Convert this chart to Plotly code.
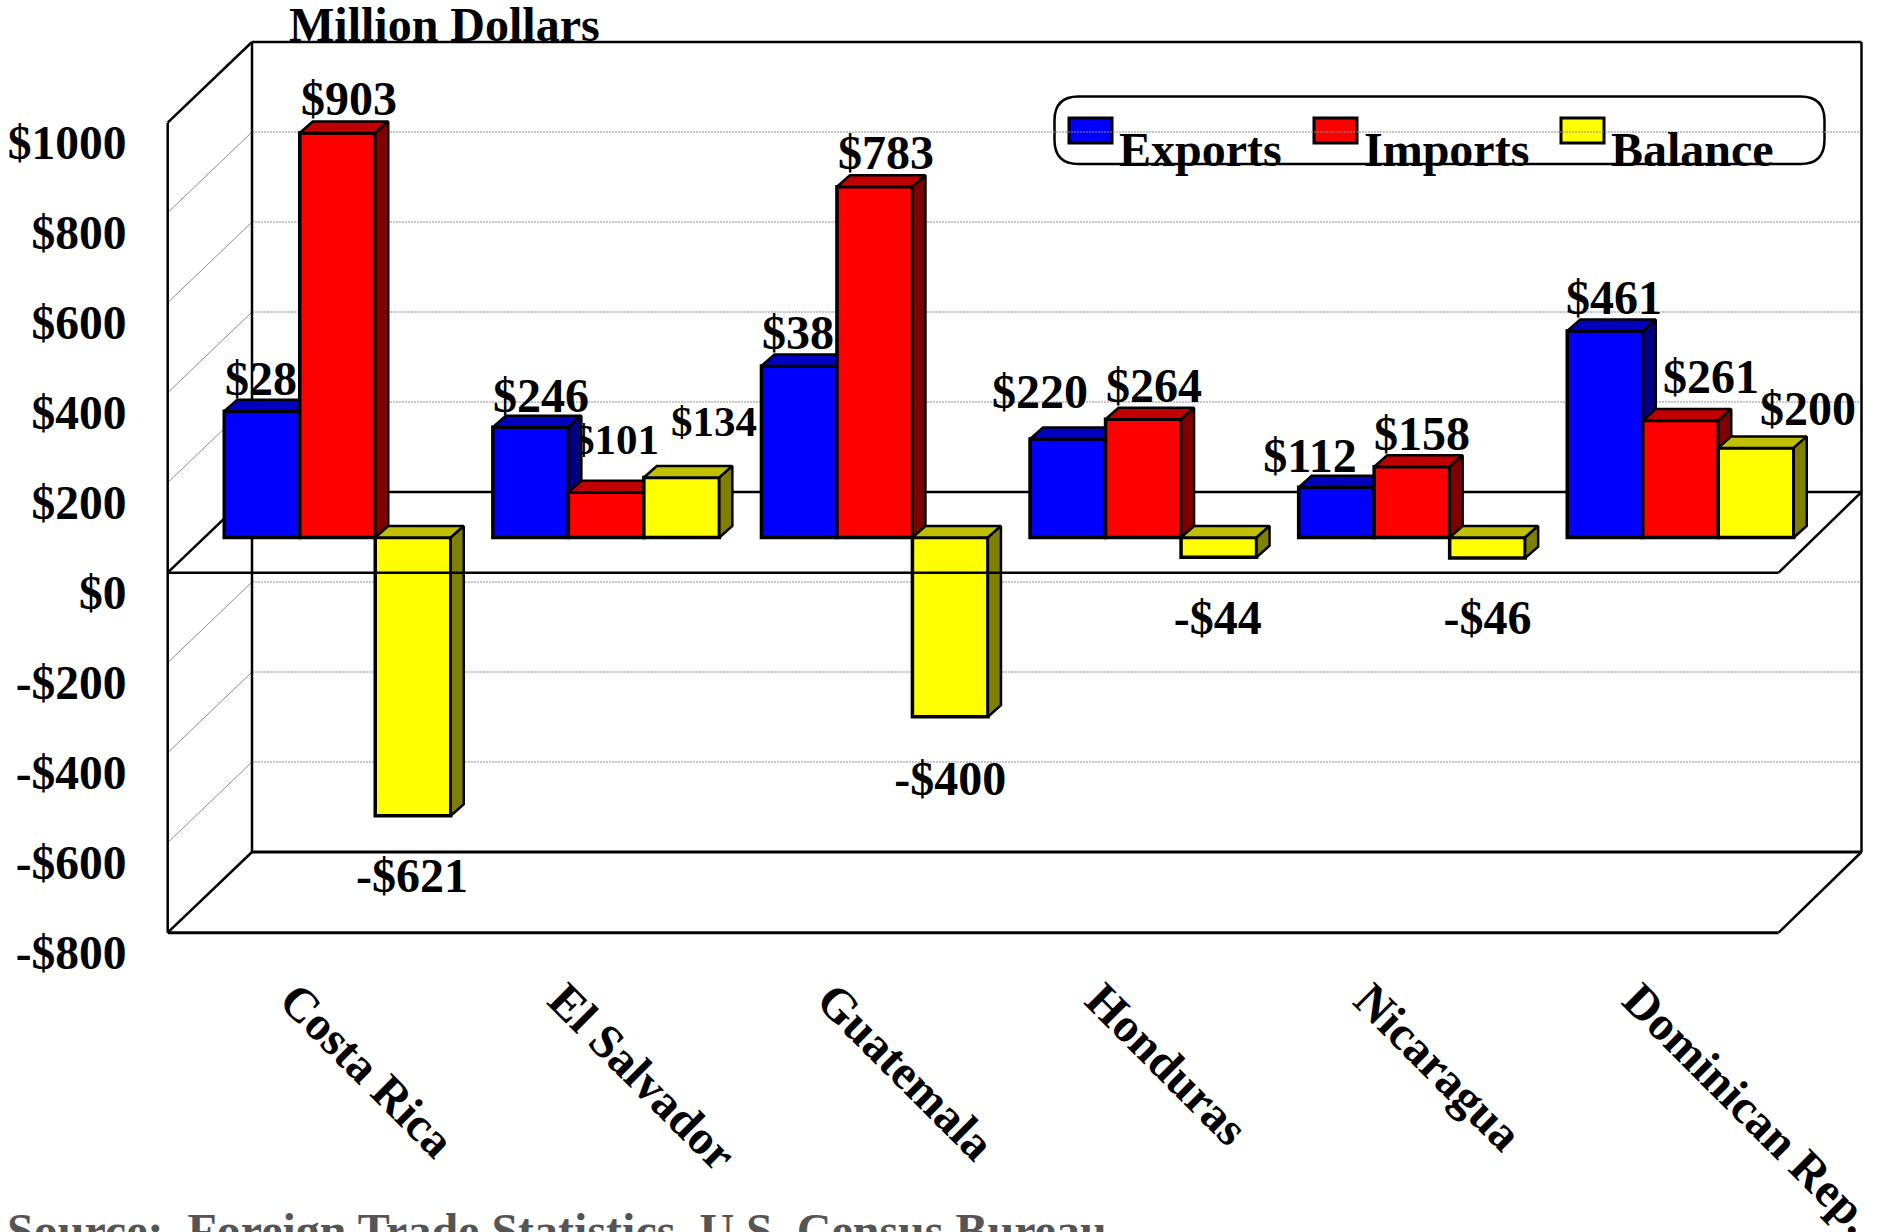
import plotly.graph_objects as go

# Trade with the U.S. by country, million dollars
countries = ["Costa Rica", "El Salvador", "Guatemala", "Honduras", "Nicaragua", "Dominican Rep."]
exports = [282, 246, 383, 220, 112, 461]
imports = [903, 101, 783, 264, 158, 261]
balance = [-621, 134, -400, -44, -46, 200]
tick_values = [1000, 800, 600, 400, 200, 0, -200, -400, -600, -800]
tick_labels = ["$1000", "$800", "$600", "$400", "$200", "$0", "-$200", "-$400", "-$600", "-$800"]
grid_values = [800, 600, 400, 200, -200, -400, -600]

WIDTH, HEIGHT = 1878, 1232
FONT = "Liberation Serif"
FS = 48

# Page scale of the bars: horizontal pixels per category, vertical pixels per million dollars
PX_X = 268.6
PX_Y = 0.448
ORIGIN_X = 337.5   # page x of category 0
ORIGIN_Y = 537.5   # page y of value 0 on the bar plane
PLANE_PX_Y = 0.45  # vertical scale of the box walls and value labels


def dx(px):
    return px / PX_X


def dy(px):
    return px / PX_Y


def ax_x(px):
    return (px - ORIGIN_X) / PX_X


def ax_y(py):
    return (ORIGIN_Y - py) / PX_Y


def plane_y(v, zero_py):
    """Bar-axis coordinate of value v on a plane whose zero sits at page y zero_py."""
    return ax_y(zero_py - PLANE_PX_Y * v)


X_RANGE = [ax_x(0), ax_x(WIDTH)]
Y_RANGE = [ax_y(HEIGHT), ax_y(0)]

BAR_W = dx(75.5)
DEPTH_X = dx(13)
DEPTH_Y = dy(11.5)

series = [
    ("Exports", exports, "#0000FF", "#000080", "#0000C0"),
    ("Imports", imports, "#FF0000", "#800000", "#C00000"),
    ("Balance", balance, "#FFFF00", "#808000", "#C0C000"),
]

# Label placement relative to each bar's centre and end, in page pixels
label_dx = [
    [11, 10.4, 10.8, -27.8, -26.4, 9],
    [11.5, 9.9, 11.3, 10.7, 10.1, 30.5],
    [-1, 32.4, 0, -1, 0, 52],
]
label_lift = [
    [13.9, 13.6, 14.5, 28.8, 13.4, 14.35],
    [14.45, 37.75, 14.45, 15, 14.7, 25.35],
    [-76.45, 40.5, -79.2, -78.4, -77.5, 20.8],
]
label_size = [
    [FS] * 6,
    [FS, 43, FS, FS, FS, FS],
    [FS, 43, FS, FS, FS, FS],
]
TEXT_BASE_SHIFT = -11  # from the text-box bottom down to the baseline
LABEL_ZERO_PY = 536.8


def money(v):
    return f"-${abs(v)}" if v < 0 else f"${v}"


fig = go.Figure()

# Value labels sit under every bar, so neighbouring bars can hide part of them
lx, ly, lt, ls = [], [], [], []
for k, (_, vals, *_rest) in enumerate(series):
    for i, v in enumerate(vals):
        lx.append(i + (k - 1) * BAR_W + dx(label_dx[k][i]))
        ly.append(plane_y(v, LABEL_ZERO_PY - label_lift[k][i] - TEXT_BASE_SHIFT))
        lt.append(money(v))
        ls.append(label_size[k][i])
fig.add_trace(go.Scatter(
    x=lx, y=ly, text=lt, mode="text", textposition="top center",
    textfont=dict(family=FONT, size=ls, color="black", weight="bold"),
    showlegend=False, hoverinfo="skip", cliponaxis=False, zorder=0,
))

# Front faces plus the shaded side and top faces of each series
z = 1
for k, (name, vals, front, side, top) in enumerate(series):
    fig.add_trace(go.Bar(
        x=list(range(len(vals))), y=vals, name=name,
        width=BAR_W, offset=(k - 1.5) * BAR_W,
        marker=dict(color=front, line=dict(color="black", width=3.5)),
        showlegend=False, zorder=z,
    ))
    z += 1
    for colour, face in ((top, "top"), (side, "side")):
        xs, ys = [], []
        for i, v in enumerate(vals):
            x0 = i + (k - 1.5) * BAR_W
            x1 = x0 + BAR_W
            hi, lo = max(v, 0), min(v, 0)
            if face == "top":
                xs += [x0, x0 + DEPTH_X, x1 + DEPTH_X, x1, x0, None]
                ys += [hi, hi + DEPTH_Y, hi + DEPTH_Y, hi, hi, None]
            else:
                xs += [x1, x1 + DEPTH_X, x1 + DEPTH_X, x1, x1, None]
                ys += [lo, lo + DEPTH_Y, hi + DEPTH_Y, hi, lo, None]
        fig.add_trace(go.Scatter(
            x=xs, y=ys, mode="lines", fill="toself", fillcolor=colour,
            line=dict(color="black", width=2.5), showlegend=False,
            hoverinfo="skip", zorder=z,
        ))
        z += 1

# Box frame: front and back planes share the value scale but sit at different offsets
LEFT_FRONT, LEFT_BACK = ax_x(167.7), ax_x(252)
RIGHT_FRONT, RIGHT_BACK = ax_x(1778.6), ax_x(1861.5)
FRONT_ZERO_PY = 572.7
BACK_ZERO_PY = 492
v_max, v_min = max(tick_values), min(tick_values)


def line(x0, y0, x1, y1, colour="black", width=2.5, dash="solid", layer="below"):
    return dict(type="line", xref="x", yref="y", x0=x0, y0=y0, x1=x1, y1=y1,
                layer=layer, line=dict(color=colour, width=width, dash=dash))


shapes = []
for v in grid_values:
    back_y = plane_y(v, BACK_ZERO_PY)
    shapes.append(line(LEFT_BACK, back_y, RIGHT_BACK, back_y,
                       colour="#8c8c8c", width=1.2, dash="2px,1px"))
    shapes.append(line(LEFT_FRONT, plane_y(v, FRONT_ZERO_PY), LEFT_BACK, back_y,
                       colour="#8c8c8c", width=1))

ft, fb = plane_y(v_max, FRONT_ZERO_PY), plane_y(v_min, FRONT_ZERO_PY)
bt, bb = plane_y(v_max, BACK_ZERO_PY), plane_y(v_min, BACK_ZERO_PY)
f0, b0 = plane_y(0, FRONT_ZERO_PY), plane_y(0, BACK_ZERO_PY)
shapes += [
    line(LEFT_FRONT, ft, LEFT_FRONT, fb),
    line(LEFT_FRONT, ft, LEFT_BACK, bt),
    line(LEFT_BACK, bt, RIGHT_BACK, bt),
    line(LEFT_BACK, bt, LEFT_BACK, bb),
    line(RIGHT_BACK, bt, RIGHT_BACK, bb),
    line(LEFT_BACK, bb, RIGHT_BACK, bb, width=3),
    line(LEFT_FRONT, fb, RIGHT_FRONT, fb, width=3),
    line(LEFT_FRONT, fb, LEFT_BACK, bb),
    line(RIGHT_FRONT, fb, RIGHT_BACK, bb),
    # Zero-level floor
    line(LEFT_FRONT, f0, LEFT_BACK, b0),
    line(LEFT_BACK, b0, RIGHT_BACK, b0),
    line(RIGHT_FRONT, f0, RIGHT_BACK, b0),
    line(LEFT_FRONT, f0, RIGHT_FRONT, f0, layer="above"),
]


# Legend box and swatches, placed on the page
def paper_x(px):
    return px / WIDTH


def paper_y(py):
    return 1 - py / HEIGHT


def rounded(x0, y0, x1, y1, r):
    pts = [
        ("M", x0 + r, y0), ("L", x1 - r, y0), ("Q", x1, y0, x1, y0 + r),
        ("L", x1, y1 - r), ("Q", x1, y1, x1 - r, y1), ("L", x0 + r, y1),
        ("Q", x0, y1, x0, y1 - r), ("L", x0, y0 + r), ("Q", x0, y0, x0 + r, y0),
    ]
    out = []
    for p in pts:
        coords = p[1:]
        txt = " ".join(f"{paper_x(coords[j]):.5f},{paper_y(coords[j + 1]):.5f}"
                       for j in range(0, len(coords), 2))
        out.append(f"{p[0]} {txt}")
    return " ".join(out) + " Z"


shapes.append(dict(type="path", xref="paper", yref="paper",
                   path=rounded(1054.5, 96.5, 1824.5, 164, 24), layer="below",
                   fillcolor="white", line=dict(color="black", width=2.5)))

legend_swatch_x = [1069, 1314, 1561]
legend_text_x = [1117, 1362, 1609]
annotations = []
for (name, _v, front, _s, _t), sx, tx in zip(series, legend_swatch_x, legend_text_x):
    shapes.append(dict(type="rect", xref="paper", yref="paper",
                       x0=paper_x(sx), x1=paper_x(sx + 43),
                       y0=paper_y(118), y1=paper_y(143), layer="below",
                       fillcolor=front, line=dict(color="black", width=3)))
    annotations.append(dict(
        text=name, xref="paper", yref="paper", x=paper_x(tx), y=paper_y(177.5),
        xanchor="left", yanchor="bottom", showarrow=False,
        font=dict(family=FONT, size=FS, color="black", weight="bold"),
    ))

annotations.append(dict(
    text="Million Dollars", xref="paper", yref="paper", x=paper_x(286.5), y=paper_y(53),
    xanchor="left", yanchor="bottom", showarrow=False,
    font=dict(family=FONT, size=FS, color="black", weight="bold"),
))
annotations.append(dict(
    text="Source:\u00a0\u00a0Foreign Trade Statistics, U.S. Census Bureau",
    xref="paper", yref="paper", x=paper_x(5), y=paper_y(1259),
    xanchor="left", yanchor="bottom", showarrow=False,
    font=dict(family=FONT, size=FS, color="#555555", weight="bold"),
))

LABEL_FONT = dict(family=FONT, size=FS, color="black", weight="bold")
VALUE_FONT = dict(family=FONT, size=47.5, color="black", weight="bold")
TICK_ZERO_PY = 592   # value tick labels hang below their front-plane gridlines
CAT_SHIFT = dx(58 - 14.4)

fig.update_layout(
    width=WIDTH, height=HEIGHT, margin=dict(l=0, r=0, t=0, b=0),
    paper_bgcolor="white", plot_bgcolor="white", barmode="overlay",
    showlegend=False, shapes=shapes, annotations=annotations,
    xaxis=dict(range=X_RANGE, visible=False, fixedrange=True, automargin=False),
    yaxis=dict(range=Y_RANGE, visible=False, fixedrange=True, automargin=False),
    # Tick labels live on overlaid axes so they can be offset from the plane
    xaxis2=dict(
        overlaying="x", side="bottom", anchor="free", position=paper_y(961),
        range=[X_RANGE[0] + CAT_SHIFT, X_RANGE[1] + CAT_SHIFT],
        tickvals=list(range(len(countries))), ticktext=countries, tickangle=45,
        tickfont=LABEL_FONT, showgrid=False, zeroline=False, showline=False,
        ticks="", fixedrange=True, automargin=False, ticklabeloverflow="allow",
    ),
    yaxis2=dict(
        overlaying="y", side="left", anchor="free", position=paper_x(126.5),
        range=[(TICK_ZERO_PY - HEIGHT) / PLANE_PX_Y, TICK_ZERO_PY / PLANE_PX_Y],
        tickvals=tick_values, ticktext=tick_labels,
        tickfont=VALUE_FONT, showgrid=False, zeroline=False, showline=False,
        ticks="", fixedrange=True, automargin=False, ticklabeloverflow="allow",
    ),
)
# An invisible trace keeps the overlaid axes alive
fig.add_trace(go.Scatter(x=[0], y=[0], xaxis="x2", yaxis="y2", mode="markers",
                         marker=dict(opacity=0), showlegend=False, hoverinfo="skip"))

fig.write_html("out.html", config={"displayModeBar": False})
